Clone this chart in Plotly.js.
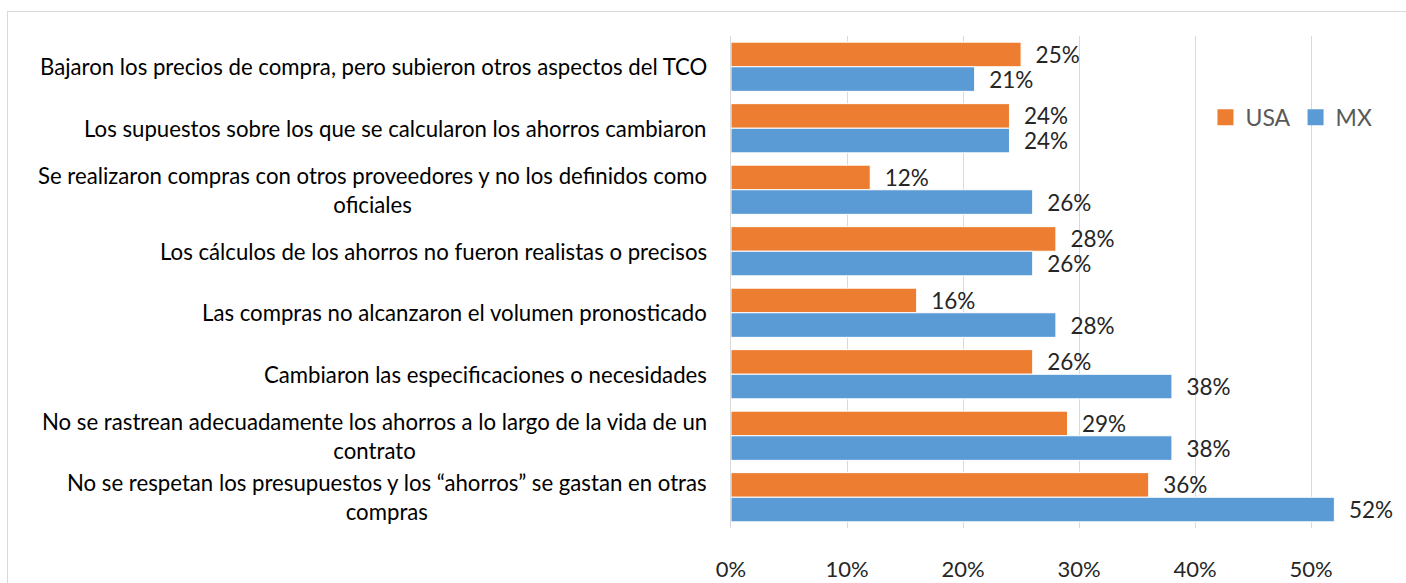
<!DOCTYPE html>
<html>
<head>
<meta charset="utf-8">
<script src="https://cdn.plot.ly/plotly-3.0.1.min.js"></script>
<style>
html,body{margin:0;padding:0;background:#fff;overflow:hidden;}
#chart{position:absolute;left:0;top:0;width:1406px;height:583px;}
#frame{position:absolute;left:7px;top:11px;width:1600px;height:1000px;border-top:1px solid #d9d9d9;border-left:1px solid #d9d9d9;pointer-events:none;}
</style>
</head>
<body>
<div id="chart"></div>
<div id="frame"></div>
<script>
const categories = [
  "Bajaron los precios de compra, pero subieron otros aspectos del TCO",
  "Los supuestos sobre los que se calcularon los ahorros cambiaron",
  "Se realizaron compras con otros proveedores y no los definidos como<br>oficiales",
  "Los cálculos de los ahorros no fueron realistas o precisos",
  "Las compras no alcanzaron el volumen pronosticado",
  "Cambiaron las especificaciones o necesidades",
  "No se rastrean adecuadamente los ahorros a lo largo de la vida de un<br>contrato",
  "No se respetan los presupuestos y los “ahorros” se gastan en otras<br>compras"
];
const usaValues = [25, 24, 12, 28, 16, 26, 29, 36];
const mxValues  = [21, 24, 26, 26, 28, 38, 38, 52];
const seriesNames = ["USA", "MX"];
const seriesColors = ["#ED7D31", "#5B9BD5"];
const tickValues = [0, 10, 20, 30, 40, 50];

const FONT = "Lato, 'Open Sans', sans-serif";
const pad = "\u00a0\u00a0";

function barTrace(name, vals, color) {
  return {
    type: "bar",
    orientation: "h",
    name: name,
    x: vals,
    y: categories,
    marker: {color: color, line: {color: "#ffffff", width: 1}},
    text: vals.map(v => pad + v + "%"),
    textposition: "outside",
    constraintext: "none",
    cliponaxis: false,
    textfont: {family: FONT, size: 22.5, color: "#262626"},
    showlegend: false,
    hoverinfo: "skip"
  };
}

function legendTrace(name, color) {
  return {
    type: "scatter", mode: "markers", name: name,
    x: [null], y: [null],
    marker: {symbol: "square", size: 16, color: color},
    showlegend: true, hoverinfo: "skip"
  };
}

const data = [
  barTrace(seriesNames[0], usaValues, seriesColors[0]),
  barTrace(seriesNames[1], mxValues, seriesColors[1]),
  legendTrace(seriesNames[0], seriesColors[0]),
  legendTrace(seriesNames[1], seriesColors[1])
];

const annotations = categories.map(c => ({
  xref: "paper", yref: "y", x: 0, y: c,
  xanchor: "right", yanchor: "middle", xshift: -22,
  text: c, align: "center", showarrow: false,
  font: {family: FONT, size: 22.2, color: "#000000"}
}));

const layout = {
  width: 1406, height: 583,
  margin: {l: 731, r: 2, t: 36, b: 55},
  paper_bgcolor: "#ffffff", plot_bgcolor: "#ffffff",
  barmode: "group", bargap: 0.2, bargroupgap: 0,
  font: {family: FONT, color: "#262626"},
  xaxis: {
    range: [0, 58], tickvals: tickValues, ticktext: tickValues.map(v => v + "%"),
    showgrid: true, gridcolor: "#d9d9d9", gridwidth: 1,
    zeroline: false, showline: false, ticks: "",
    ticklabelstandoff: 26,
    tickfont: {family: FONT, size: 22, color: "#262626"}
  },
  yaxis: {
    type: "category", autorange: "reversed",
    showticklabels: false, ticks: "", showgrid: false, zeroline: false,
    showline: true, linecolor: "#d9d9d9", linewidth: 1
  },
  showlegend: true,
  legend: {
    orientation: "h", x: 0.705, y: 0.835, xanchor: "left", yanchor: "middle",
    font: {family: FONT, size: 23, color: "#595959"},
    traceorder: "normal", itemwidth: 30,
    bgcolor: "rgba(0,0,0,0)"
  },
  annotations: annotations
};

Plotly.newPlot("chart", data, layout, {staticPlot: true, displayModeBar: false});
</script>
</body>
</html>
